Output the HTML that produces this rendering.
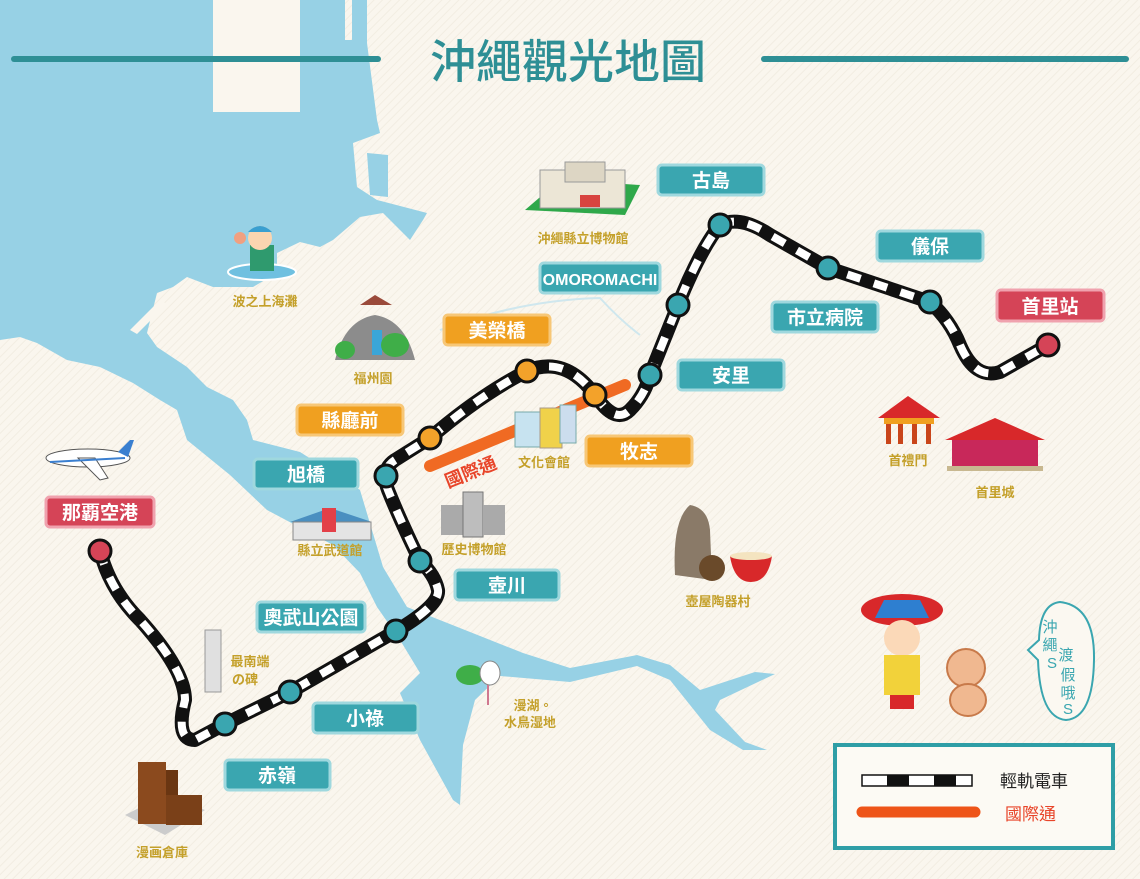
<!DOCTYPE html>
<html><head><meta charset="utf-8"><style>
html,body{margin:0;padding:0;background:#faf6ee;}
svg{display:block}
text{font-family:"Liberation Sans","Noto Sans CJK TC",sans-serif;}
</style></head><body>
<svg width="1140" height="879" viewBox="0 0 1140 879" xmlns="http://www.w3.org/2000/svg">
<defs>
<pattern id="st" width="6" height="6" patternUnits="userSpaceOnUse" patternTransform="rotate(45)"><rect width="6" height="6" fill="#faf6ee"/><rect width="1" height="6" fill="#f2ede2"/></pattern>
</defs>
<rect width="1140" height="879" fill="url(#st)"/>
<!-- water -->
<path fill="#97d1e5" d="M0,0 L345,0 L345,40 L352,40 L352,0 L367,0 L367,43 L377,120 L380,133 L353,143 L357,187 L377,200 L427,213 L423,220 L410,240 L400,230 L383,213 L360,217 L333,240 L320,247 L300,242 L277,253 L277,273 L253,287 L213,287 L187,277 L173,287 L157,293 L147,333 L157,347 L187,367 L207,387 L233,400 L247,420 L253,440 L300,452 L360,490 L383,567 L407,607 L523,653 L570,668 L637,655 L670,665 L700,690 L755,672 L775,674 L720,700 L715,710 L745,742 L767,750 L743,750 L710,730 L670,680 L637,666 L570,682 L500,676 L475,700 L463,745 L460,805 L453,800 L420,740 L400,693 L420,673 L400,640 L377,607 L360,573 L333,545 L267,510 L230,475 L187,440 L177,410 L160,400 L133,383 L100,367 L67,360 L37,343 L20,337 L0,340 Z"/>
<rect x="213" y="0" width="87" height="112" fill="#faf6ee"/>
<path d="M367,153 L388,155 L388,197 L370,195 Z" fill="#97d1e5"/>
<path d="M130,330 L160,300 L167,304 L137,334 Z" fill="#faf6ee"/>
<path d="M440,330 Q520,300 600,298 Q620,320 640,335" fill="none" stroke="#cfe7ee" stroke-width="2"/>
<!-- title -->
<line x1="14" y1="59" x2="378" y2="59" stroke="#2e8f95" stroke-width="6" stroke-linecap="round"/>
<line x1="764" y1="59" x2="1126" y2="59" stroke="#2e8f95" stroke-width="6" stroke-linecap="round"/>
<text x="568" y="78" text-anchor="middle" font-size="46" fill="#2e8f95" font-weight="500">沖繩觀光地圖</text>
<!-- kokusai dori -->
<line x1="430" y1="466" x2="625" y2="385" stroke="#f06a23" stroke-width="12" stroke-linecap="round"/>
<text x="448" y="488" font-size="18" fill="#e8452a" font-weight="bold" transform="rotate(-22 448 488)">國際通</text>
<!-- rail -->
<path id="rl" d="M100,551 Q110,590 140,620 Q185,670 185,700 Q175,740 195,740 L225,724 L290,692 L396,631 Q440,605 438,590 Q435,575 420,561 Q400,520 388,490 Q380,470 395,460 L430,438 Q480,395 527,371 Q565,355 595,395 Q615,425 630,410 Q645,395 650,375 L678,305 Q700,250 720,225 Q740,215 770,235 L828,268 L930,302 Q950,320 960,345 Q975,380 1000,372 L1048,345" fill="none" stroke="#111" stroke-width="14" stroke-linejoin="round"/>
<path d="M100,551 Q110,590 140,620 Q185,670 185,700 Q175,740 195,740 L225,724 L290,692 L396,631 Q440,605 438,590 Q435,575 420,561 Q400,520 388,490 Q380,470 395,460 L430,438 Q480,395 527,371 Q565,355 595,395 Q615,425 630,410 Q645,395 650,375 L678,305 Q700,250 720,225 Q740,215 770,235 L828,268 L930,302 Q950,320 960,345 Q975,380 1000,372 L1048,345" fill="none" stroke="#fff" stroke-width="8" stroke-dasharray="14 14"/>
<g stroke="#111" stroke-width="3">
<circle cx="100" cy="551" r="11" fill="#d54457"/>
<circle cx="1048" cy="345" r="11" fill="#d54457"/>
<circle cx="430" cy="438" r="11" fill="#f3a22a"/>
<circle cx="527" cy="371" r="11" fill="#f3a22a"/>
<circle cx="595" cy="395" r="11" fill="#f3a22a"/>
<g fill="#3aa6b0">
<circle cx="225" cy="724" r="11"/><circle cx="290" cy="692" r="11"/><circle cx="396" cy="631" r="11"/>
<circle cx="420" cy="561" r="11"/><circle cx="386" cy="476" r="11"/><circle cx="650" cy="375" r="11"/>
<circle cx="678" cy="305" r="11"/><circle cx="720" cy="225" r="11"/><circle cx="828" cy="268" r="11"/><circle cx="930" cy="302" r="11"/>
</g></g>
<!-- station labels -->
<g font-size="19" font-weight="bold" fill="#fff" text-anchor="middle">
<g stroke="#9fd8de" stroke-width="3" fill="#3aa6b0">
<rect x="658" y="165" width="106" height="30" rx="4"/>
<rect x="877" y="231" width="106" height="30" rx="4"/>
<rect x="540" y="263" width="120" height="30" rx="4"/>
<rect x="772" y="302" width="106" height="30" rx="4"/>
<rect x="678" y="360" width="106" height="30" rx="4"/>
<rect x="254" y="459" width="104" height="30" rx="4"/>
<rect x="455" y="570" width="104" height="30" rx="4"/>
<rect x="257" y="602" width="108" height="30" rx="4"/>
<rect x="313" y="703" width="105" height="30" rx="4"/>
<rect x="225" y="760" width="105" height="30" rx="4"/>
</g>
<g stroke="#f7c777" stroke-width="3" fill="#f0a020">
<rect x="444" y="315" width="106" height="30" rx="4"/>
<rect x="297" y="405" width="106" height="30" rx="4"/>
<rect x="586" y="436" width="106" height="30" rx="4"/>
</g>
<g stroke="#f0a2ae" stroke-width="3" fill="#d54457">
<rect x="997" y="290" width="107" height="31" rx="4"/>
<rect x="46" y="497" width="108" height="30" rx="4"/>
</g>
<text x="711" y="187">古島</text>
<text x="930" y="253">儀保</text>
<text x="600" y="285" font-size="16">OMOROMACHI</text>
<text x="825" y="324">市立病院</text>
<text x="731" y="382">安里</text>
<text x="306" y="481">旭橋</text>
<text x="507" y="592">壺川</text>
<text x="311" y="624">奧武山公園</text>
<text x="365" y="725">小祿</text>
<text x="277" y="782">赤嶺</text>
<text x="497" y="337">美榮橋</text>
<text x="350" y="427">縣廳前</text>
<text x="639" y="458">牧志</text>
<text x="1050" y="313">首里站</text>
<text x="100" y="519">那覇空港</text>
</g>
<!-- illustrations (simplified) -->
<g>
<!-- museum -->
<polygon points="525,210 560,180 640,185 625,215" fill="#2fa84a"/>
<rect x="540" y="170" width="85" height="38" fill="#ece6d6" stroke="#999"/>
<rect x="565" y="162" width="40" height="20" fill="#ddd6c4" stroke="#999"/>
<rect x="580" y="195" width="20" height="12" fill="#d8443f"/>
<!-- swimmer -->
<ellipse cx="262" cy="272" rx="34" ry="8" fill="#6fc0e0" stroke="#fff" stroke-width="2"/>
<rect x="250" y="245" width="24" height="26" fill="#2f9a6e"/>
<circle cx="260" cy="238" r="12" fill="#fbd5b0"/>
<path d="M248,232 Q260,220 272,232 Z" fill="#3a9fd0"/>
<circle cx="240" cy="238" r="6" fill="#f1a080"/>
<!-- fukushu-en -->
<path d="M335,360 Q345,320 375,315 Q405,320 415,360 Z" fill="#8c8c8c"/>
<rect x="372" y="330" width="10" height="25" fill="#3aa6d8"/>
<path d="M360,305 L375,295 L392,305 Z" fill="#9a4a3a"/>
<ellipse cx="395" cy="345" rx="14" ry="12" fill="#3fae48"/>
<ellipse cx="345" cy="350" rx="10" ry="9" fill="#3fae48"/>
<!-- plane -->
<ellipse cx="88" cy="458" rx="42" ry="9" fill="#fff" stroke="#555"/>
<path d="M78,458 L100,480 L108,478 L95,458 Z" fill="#fff" stroke="#555"/>
<path d="M118,452 L130,440 L134,440 L128,457 Z" fill="#3a7fd0"/>
<line x1="50" y1="462" x2="125" y2="458" stroke="#3a7fd0" stroke-width="2"/>
<!-- culture hall -->
<rect x="515" y="412" width="25" height="35" fill="#c7e3f0" stroke="#7aa"/>
<rect x="540" y="408" width="22" height="40" fill="#f0d24a" stroke="#a98"/>
<rect x="560" y="405" width="16" height="38" fill="#cde" stroke="#7aa"/>
<!-- budokan -->
<path d="M290,522 L330,508 L372,522 Z" fill="#4a8fc0"/>
<rect x="293" y="522" width="78" height="18" fill="#e4e4e4" stroke="#888"/>
<rect x="322" y="508" width="14" height="24" fill="#e34048"/>
<!-- history museum -->
<rect x="441" y="505" width="22" height="30" fill="#aaa"/>
<rect x="463" y="492" width="20" height="45" fill="#bdbdbd" stroke="#777"/>
<rect x="483" y="505" width="22" height="30" fill="#aaa"/>
<!-- southernmost -->
<rect x="205" y="630" width="16" height="62" fill="#e0e0e0" stroke="#999"/>
<!-- manga -->
<polygon points="125,815 165,835 205,810 165,795" fill="#ccc"/>
<rect x="138" y="762" width="28" height="62" fill="#8b4a1e"/>
<rect x="166" y="770" width="12" height="55" fill="#6a3612"/>
<rect x="166" y="795" width="36" height="30" fill="#7a4018"/>
<!-- bird lake -->
<ellipse cx="470" cy="675" rx="14" ry="10" fill="#3fae48"/>
<ellipse cx="490" cy="673" rx="10" ry="12" fill="#fff" stroke="#888"/>
<line x1="488" y1="685" x2="488" y2="705" stroke="#d07890" stroke-width="2"/>
<!-- shisa & bowl -->
<path d="M675,575 Q672,520 690,505 Q708,508 710,530 L712,580 Z" fill="#8a7a68"/>
<circle cx="712" cy="568" r="13" fill="#6a4a2a"/>
<path d="M730,556 L772,556 Q768,582 751,582 Q734,582 730,556 Z" fill="#d8282a"/>
<ellipse cx="751" cy="556" rx="21" ry="4" fill="#f4e4c0"/>
<!-- shureimon -->
<path d="M878,418 L908,396 L940,418 Z" fill="#d8282a"/>
<rect x="884" y="418" width="50" height="6" fill="#f0a020"/>
<g fill="#c9451a"><rect x="886" y="424" width="5" height="20"/><rect x="898" y="424" width="5" height="20"/><rect x="912" y="424" width="5" height="20"/><rect x="926" y="424" width="5" height="20"/></g>
<!-- shuri castle -->
<path d="M945,440 L995,418 L1045,440 Z" fill="#d8282a"/>
<rect x="952" y="440" width="86" height="26" fill="#c8285a"/>
<rect x="947" y="466" width="96" height="5" fill="#c8b890"/>
<!-- girl & shisa -->
<ellipse cx="902" cy="610" rx="41" ry="16" fill="#d8282a"/>
<path d="M875,618 L929,618 L920,600 L884,600 Z" fill="#2e7fd0"/>
<circle cx="902" cy="638" r="18" fill="#fbd9b8"/>
<rect x="884" y="655" width="36" height="40" fill="#f2d23a"/>
<rect x="890" y="695" width="24" height="14" fill="#d8282a"/>
<circle cx="966" cy="668" r="19" fill="#f0b890" stroke="#c87a4a" stroke-width="2"/>
<ellipse cx="968" cy="700" rx="18" ry="16" fill="#f0b890" stroke="#c87a4a" stroke-width="2"/>
<!-- bubble -->
<path d="M1060,602 Q1095,606 1094,660 Q1093,718 1066,720 Q1040,718 1038,660 L1028,650 L1039,640 Q1040,604 1060,602 Z" fill="#fbf8f1" stroke="#3aa6b0" stroke-width="2"/>
<g font-size="15" fill="#3aa6b0" text-anchor="middle">
<text x="1050" y="632">沖</text><text x="1050" y="650">繩</text><text x="1066" y="660">渡</text><text x="1052" y="668">S</text><text x="1068" y="680">假</text><text x="1068" y="698">哦</text><text x="1068" y="714">S</text>
</g>
</g>
<!-- small labels -->
<g font-size="13" fill="#c4a02a" text-anchor="middle" font-weight="bold">
<text x="583" y="243">沖繩縣立博物館</text>
<text x="265" y="306">波之上海灘</text>
<text x="373" y="383">福州園</text>
<text x="544" y="467">文化會館</text>
<text x="330" y="555">縣立武道館</text>
<text x="474" y="554">歷史博物館</text>
<text x="250" y="666">最南端</text>
<text x="245" y="684">の碑</text>
<text x="718" y="606">壺屋陶器村</text>
<text x="533" y="710">漫湖。</text>
<text x="530" y="727">水鳥湿地</text>
<text x="908" y="465">首禮門</text>
<text x="995" y="497">首里城</text>
<text x="162" y="857">漫画倉庫</text>
</g>
<!-- legend -->
<rect x="835" y="745" width="278" height="103" fill="#fcfaf4" stroke="#2e9ea6" stroke-width="4"/>
<rect x="862" y="775" width="110" height="11" fill="#fff" stroke="#111" stroke-width="1.5"/>
<rect x="887" y="775" width="22" height="11" fill="#111"/>
<rect x="934" y="775" width="22" height="11" fill="#111"/>
<line x1="862" y1="812" x2="975" y2="812" stroke="#ee5418" stroke-width="11" stroke-linecap="round"/>
<text x="1000" y="787" font-size="17" fill="#222">輕軌電車</text>
<text x="1005" y="820" font-size="17" fill="#e8452a">國際通</text>
</svg>
</body></html>
